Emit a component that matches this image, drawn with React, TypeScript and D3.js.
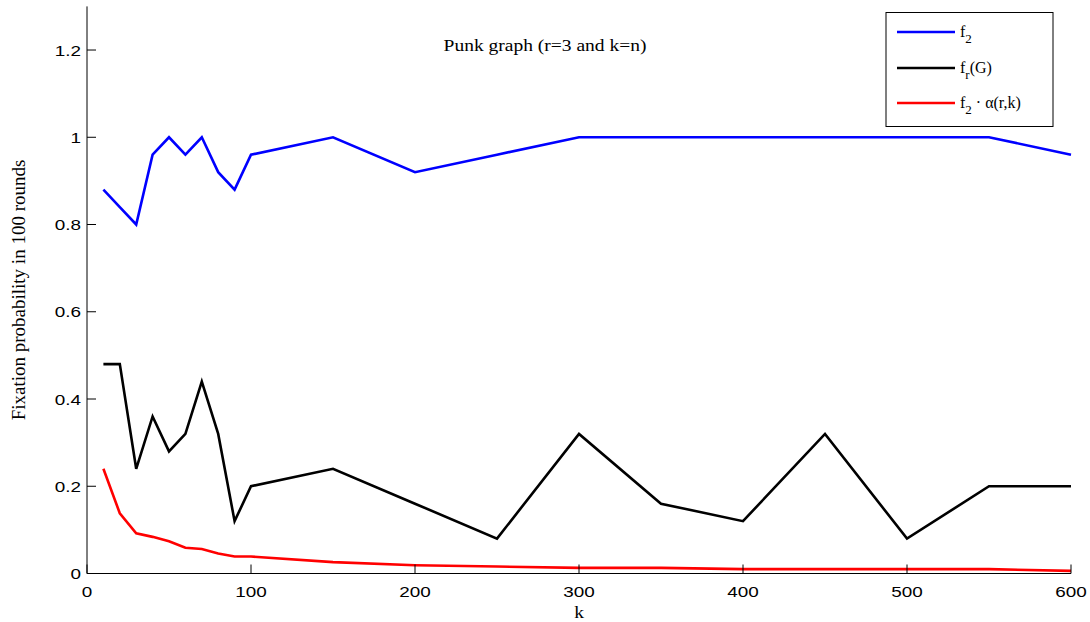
import React from "react";
import * as d3 from "d3";

const kValues = [10, 20, 30, 40, 50, 60, 70, 80, 90, 100, 150, 200, 250, 300, 350, 400, 450, 500, 550, 600];
const f2Values = [0.88, 0.84, 0.8, 0.96, 1.0, 0.96, 1.0, 0.92, 0.88, 0.96, 1.0, 0.92, 0.96, 1.0, 1.0, 1.0, 1.0, 1.0, 1.0, 0.96];
const frValues = [0.48, 0.48, 0.24, 0.36, 0.28, 0.32, 0.44, 0.32, 0.12, 0.2, 0.24, 0.16, 0.08, 0.32, 0.16, 0.12, 0.32, 0.08, 0.2, 0.2];
const alphaValues = [0.24, 0.138, 0.092, 0.084, 0.074, 0.059, 0.056, 0.046, 0.039, 0.039, 0.026, 0.019, 0.016, 0.013, 0.013, 0.01, 0.01, 0.01, 0.01, 0.006];
const xTicks = [0, 100, 200, 300, 400, 500, 600];
const yTicks = [0, 0.2, 0.4, 0.6, 0.8, 1, 1.2];

const SX = 1.22;

export default function App() {
  const W = 1090, H = 622;
  const x = d3.scaleLinear().domain([0, 600]).range([87, 1071]);
  const y = d3.scaleLinear().domain([0, 1.3]).range([573.5, 6.4]);
  const line = (vals: number[]) =>
    d3.line<number>().x((_, i) => x(kValues[i])).y((v) => y(v))(vals) || "";
  const series = [
    { vals: f2Values, color: "#0000ff" },
    { vals: frValues, color: "#000000" },
    { vals: alphaValues, color: "#ff0000" },
  ];
  const serif = "'Liberation Serif', 'Times New Roman', serif";
  const sans = "'Liberation Sans', Arial, sans-serif";
  const legendY = [32, 68, 103];
  return (
    <svg width={W} height={H} style={{ position: "absolute", left: 0, top: 0, background: "#fff" }}>
      {series.map((s, i) => (
        <path key={i} d={line(s.vals)} fill="none" stroke={s.color} strokeWidth={2.6} strokeLinejoin="miter" />
      ))}
      {/* axes */}
      <line x1={x(0)} x2={x(0)} y1={y(1.3)} y2={y(0)} stroke="#000" strokeWidth={1} />
      <line x1={x(0)} x2={x(600)} y1={y(0)} y2={y(0)} stroke="#000" strokeWidth={1} />
      {yTicks.map((t) => (
        <g key={"y" + t}>
          <line x1={x(0)} x2={x(0) + 9} y1={y(t)} y2={y(t)} stroke="#000" />
          <text transform={`translate(${x(0) - 6},${y(t) + 5.5}) scale(${SX},1)`} textAnchor="end" fontFamily={sans} fontSize={15.5}>
            {t === 0 ? "0" : String(t)}
          </text>
        </g>
      ))}
      {xTicks.map((t) => (
        <g key={"x" + t}>
          <line x1={x(t)} x2={x(t)} y1={y(0)} y2={y(0) - 9} stroke="#000" />
          <text transform={`translate(${x(t)},${597}) scale(${SX},1)`} textAnchor="middle" fontFamily={sans} fontSize={15.5}>
            {t}
          </text>
        </g>
      ))}
      <text transform={`translate(545,51) scale(${SX},1)`} textAnchor="middle" fontFamily={serif} fontSize={16}>
        Punk graph (r=3 and k=n)
      </text>
      <text transform={`translate(579,618) scale(${SX},1)`} textAnchor="middle" fontFamily={serif} fontSize={16}>
        k
      </text>
      <text transform={`translate(25, 290) rotate(-90)`} textAnchor="middle" fontFamily={serif} fontSize={19}>
        Fixation probability in 100 rounds
      </text>
      {/* legend */}
      <rect x={886} y={12.5} width={167} height={114} fill="#fff" stroke="#000" strokeWidth={1} />
      {series.map((s, i) => (
        <line key={"l" + i} x1={897} x2={955} y1={legendY[i]} y2={legendY[i]} stroke={s.color} strokeWidth={2.6} />
      ))}
      <text x={960} y={legendY[0] + 5} fontFamily={serif} fontSize={16}>
        f<tspan dy={6} fontSize={13}>2</tspan>
      </text>
      <text x={960} y={legendY[1] + 5} fontFamily={serif} fontSize={16}>
        f<tspan dy={6} fontSize={13}>r</tspan><tspan dy={-6}>(G)</tspan>
      </text>
      <text x={960} y={legendY[2] + 5} fontFamily={serif} fontSize={16}>
        f<tspan dy={6} fontSize={13}>2</tspan><tspan dy={-6}> · α(r,k)</tspan>
      </text>
    </svg>
  );
}
